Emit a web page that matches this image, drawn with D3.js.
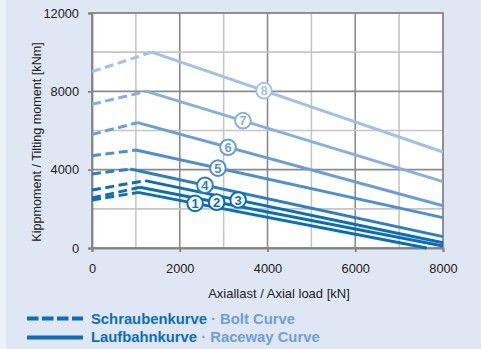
<!DOCTYPE html>
<html><head><meta charset="utf-8">
<script src="https://cdn.jsdelivr.net/npm/d3@7"></script>
<style>html,body{margin:0;padding:0;background:#dfe7f4;}svg{display:block;}</style>
</head><body>
<script>
// ---- data ----
const curveIds = [1,2,3,4,5,6,7,8];
const startVals = [2450, 2550, 2960, 3780, 4710, 5800, 7340, 9000]; // at axial load 0 (bolt curve)
const peakX = [1050, 1090, 1210, 870, 1000, 1040, 1245, 1360];
const peakY = [2840, 3100, 3440, 4030, 5000, 6400, 8000, 10000];
const endX = [7630, 8000, 8000, 8000, 8000, 8000, 8000, 8000];
const endY = [0, 100, 270, 580, 1550, 2160, 3390, 4900];
const labelX = [2350, 2840, 3330, 2575, 2870, 3100, 3440, 3920];
const colors = ["#0a6ebd","#0a6ebd","#0a6ebd","#2c7fc7","#4d8fd0","#6a9ed8","#86b0e0","#a2c1e8"];
const xTicks = [0, 2000, 4000, 6000, 8000];
const yTicks = [0, 4000, 8000, 12000];
const xGrid = [1000,2000,3000,4000,5000,6000,7000];
const yGrid = [2000,4000,6000,8000,10000];
const xTitle = "Axiallast / Axial load [kN]";
const yTitle = "Kippmoment / Tilting moment [kNm]";
const legend = [
  {de:"Schraubenkurve", en:"Bolt Curve", dash:true},
  {de:"Laufbahnkurve", en:"Raceway Curve", dash:false}
];

const W=481,H=349;
const svg=d3.select("body").append("svg").attr("width",W).attr("height",H);
svg.append("rect").attr("width",W).attr("height",H).attr("fill","#dfe7f4");
svg.append("rect").attr("width",6).attr("height",H).attr("fill","#edf1f8");

const x=d3.scaleLinear().domain([0,8000]).range([92,443]);
const y=d3.scaleLinear().domain([0,12000]).range([248,13]);
const font="'Liberation Sans', Arial, sans-serif";

svg.append("rect").attr("x",x(0)).attr("y",y(12000)).attr("width",x(8000)-x(0)).attr("height",y(0)-y(12000)).attr("fill","#fff");

// grid
svg.append("g").selectAll("line").data(xGrid).join("line")
  .attr("x1",d=>x(d)).attr("x2",d=>x(d)).attr("y1",y(0)).attr("y2",y(12000))
  .attr("stroke",d=>d%2000===0?"#8a8a8a":"#c6c6c6").attr("stroke-width",1.6);
svg.append("g").selectAll("line").data(yGrid).join("line")
  .attr("x1",x(0)).attr("x2",x(8000)).attr("y1",d=>y(d)).attr("y2",d=>y(d))
  .attr("stroke",d=>d%4000===0?"#8a8a8a":"#c6c6c6").attr("stroke-width",1.6);
// border
svg.append("rect").attr("x",x(0)).attr("y",y(12000)).attr("width",x(8000)-x(0)).attr("height",y(0)-y(12000))
  .attr("fill","none").attr("stroke","#858585").attr("stroke-width",1.8);

// axes
const xa=svg.append("g").attr("transform",`translate(0,${y(0)})`)
  .call(d3.axisBottom(x).tickValues(xTicks).tickSize(4).tickPadding(12).tickFormat(d3.format("d")));
const ya=svg.append("g").attr("transform",`translate(${x(0)},0)`)
  .call(d3.axisLeft(y).tickValues(yTicks).tickSize(4).tickPadding(9).tickFormat(d3.format("d")));
[xa,ya].forEach(a=>{
  a.select(".domain").attr("stroke","#858585").attr("stroke-width",1.8);
  a.selectAll(".tick line").attr("stroke","#858585").attr("stroke-width",1.8);
  a.selectAll("text").attr("font-family",font).attr("font-size",12.8).attr("fill","#222");
});

svg.append("text").attr("x",279).attr("y",298).attr("text-anchor","middle")
  .attr("font-family",font).attr("font-size",13).attr("fill","#222").text(xTitle);
svg.append("text").attr("transform",`translate(40.5,142) rotate(-90)`).attr("text-anchor","middle")
  .attr("font-family",font).attr("font-size",12.6).attr("fill","#222").text(yTitle);

// curves
const line=d3.line().x(d=>x(d[0])).y(d=>y(d[1]));
const order=[7,6,5,4,3,2,1,0];
const g=svg.append("g");
order.forEach(i=>{
  const c=colors[i];
  g.append("path").attr("d",line([[0,startVals[i]],[peakX[i],peakY[i]]]))
    .attr("fill","none").attr("stroke",c).attr("stroke-width",3).attr("stroke-dasharray","9,4.5");
  g.append("path").attr("d",line([[peakX[i],peakY[i]],[endX[i],endY[i]]]))
    .attr("fill","none").attr("stroke",c).attr("stroke-width",3);
});
// labels
curveIds.forEach((id,i)=>{
  const lx=labelX[i];
  const ly=peakY[i]+(endY[i]-peakY[i])*(lx-peakX[i])/(endX[i]-peakX[i]);
  const lg=svg.append("g").attr("transform",`translate(${x(lx)},${y(ly)})`);
  lg.append("circle").attr("r",7.8).attr("fill","#fff").attr("stroke",colors[i]).attr("stroke-width",2);
  lg.append("text").attr("y",4.8).attr("text-anchor","middle").attr("font-family",font)
    .attr("font-weight","bold").attr("font-size",13).attr("fill",colors[i]).text(id);
});

// legend
legend.forEach((L,i)=>{
  const ly=[318.5,337.5][i];
  svg.append("line").attr("x1",27).attr("x2",83).attr("y1",ly).attr("y2",ly)
    .attr("stroke","#0a6ebd").attr("stroke-width",4).attr("stroke-dasharray",L.dash?"11.5,3.5":null);
  const t=svg.append("text").attr("x",91).attr("y",[324,342][i]).attr("font-family",font)
    .attr("font-weight","bold").attr("font-size",14.8);
  t.append("tspan").attr("fill","#0a6ebd").text(L.de);
  t.append("tspan").attr("fill","#6e9fd8").text(" · "+L.en);
});
</script>
</body></html>
